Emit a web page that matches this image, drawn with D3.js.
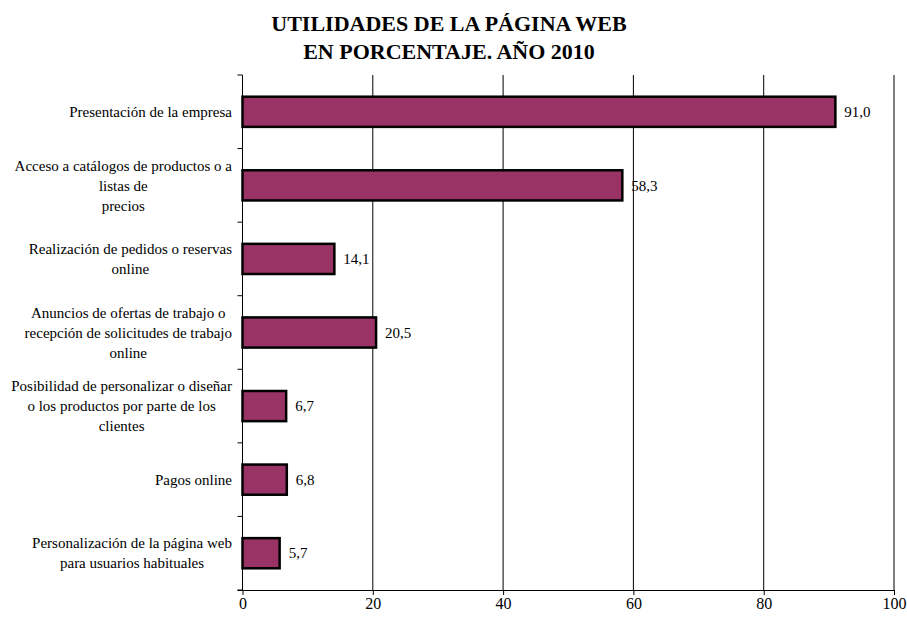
<!DOCTYPE html>
<html>
<head>
<meta charset="utf-8">
<script src="https://cdn.jsdelivr.net/npm/d3@7/dist/d3.min.js"></script>
<style>
  body { margin: 0; background: #fff; }
  svg text { font-family: "Liberation Serif", "Times New Roman", serif !important; fill: #000; }
</style>
</head>
<body>
<svg id="chart" width="907" height="623" style="font-family: 'Liberation Serif', serif"></svg>
<script>
const titleLines = ["UTILIDADES DE LA PÁGINA WEB", "EN PORCENTAJE. AÑO 2010"];
const categories = [
  ["Presentación de la empresa"],
  ["Acceso a catálogos de productos o a", "listas de", "precios"],
  ["Realización de pedidos o reservas", "online"],
  ["Anuncios de ofertas de trabajo o", "recepción de solicitudes de trabajo", "online"],
  ["Posibilidad de personalizar o diseñar", "o los productos por parte de los", "clientes"],
  ["Pagos online"],
  ["Personalización de la página web", "para usuarios habituales"]
];
const values = [91.0, 58.3, 14.1, 20.5, 6.7, 6.8, 5.7];
const xTicks = [0, 20, 40, 60, 80, 100];

const svg = d3.select("#chart");
const W = 907, H = 623;
const plotTop = 75, plotBottom = 590, x0 = 242.5, x1 = 894;
const x = d3.scaleLinear().domain([0, 100]).range([x0, x1]);
const y = d3.scaleBand().domain(d3.range(categories.length)).range([plotTop, plotBottom]).paddingInner(0.59).paddingOuter(0.295);
const yb = d3.scaleBand().domain(d3.range(categories.length)).range([plotTop, plotBottom]);

// title
svg.append("g").selectAll("text").data(titleLines).join("text")
  .attr("x", 449).attr("y", (d, i) => 31 + i * 28)
  .attr("text-anchor", "middle")
  .style("font-weight", "bold").style("font-size", "22px")
  .text(d => d);

// gridlines
svg.append("g").selectAll("line").data(xTicks.filter(t => t > 0)).join("line")
  .attr("x1", d => x(d)).attr("x2", d => x(d))
  .attr("y1", plotTop).attr("y2", plotBottom)
  .attr("stroke", "#000").attr("stroke-width", 1);

// y axis with ticks at band boundaries
const yAxisG = svg.append("g");
yAxisG.append("line").attr("x1", x0).attr("x2", x0)
  .attr("y1", plotTop).attr("y2", plotBottom).attr("stroke", "#000");
const boundaries = d3.range(categories.length + 1).map(i => plotTop + i * yb.step());
yAxisG.selectAll("line.t").data(boundaries).join("line").attr("class", "t")
  .attr("x1", x0 - 5).attr("x2", x0)
  .attr("y1", d => d).attr("y2", d => d).attr("stroke", "#000");

// x axis
const xAxis = d3.axisBottom(x).tickValues(xTicks).tickSize(5).tickFormat(d3.format("d"));
const xg = svg.append("g").attr("transform", `translate(0,${plotBottom})`).call(xAxis);
xg.attr("font-family", null).attr("font-size", null);
xg.select(".domain").attr("d", `M${x0 - 5},0.5H${x1}`).attr("stroke", "#000");
xg.selectAll(".tick line").attr("stroke", "#000");
xg.selectAll(".tick text").style("font-size", "16px");

// bars
svg.append("g").selectAll("rect").data(values).join("rect")
  .attr("x", x(0)).attr("y", (d, i) => y(i))
  .attr("width", d => x(d) - x(0)).attr("height", y.bandwidth())
  .attr("fill", "#993366").attr("stroke", "#000").attr("stroke-width", 2.5);

// value labels
const fmt = v => v.toFixed(1).replace(".", ",");
svg.append("g").selectAll("text").data(values).join("text")
  .attr("x", d => x(d) + 9).attr("y", (d, i) => y(i) + y.bandwidth() / 2)
  .attr("dy", "0.35em").style("font-size", "15px")
  .text(d => fmt(d));

// category labels
const lineH = 20;
const labG = svg.append("g");
categories.forEach((lines, i) => {
  const cy = yb(i) + yb.bandwidth() / 2;
  const g = labG.append("g");
  const texts = g.selectAll("text").data(lines).join("text")
    .attr("y", (d, j) => cy + (j - (lines.length - 1) / 2) * lineH)
    .attr("dy", "0.35em").style("font-size", "15px")
    .attr("text-anchor", "middle").text(d => d);
  let maxW = 0;
  texts.each(function() { maxW = Math.max(maxW, this.getComputedTextLength()); });
  texts.attr("x", 232 - maxW / 2);
});
</script>
</body>
</html>
